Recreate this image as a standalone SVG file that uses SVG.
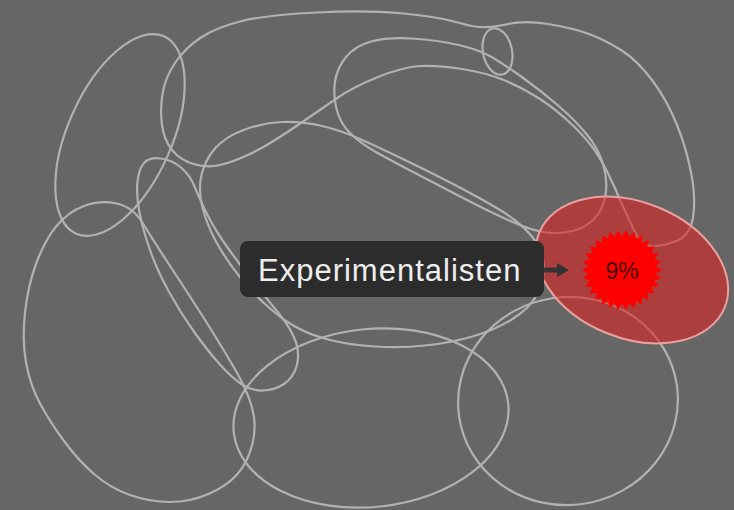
<svg xmlns="http://www.w3.org/2000/svg" width="734" height="510" viewBox="0 0 734 510">
<style>
.ln{fill:none;stroke:#b2b2b2;stroke-width:2.2}
.lbl{font-family:"Liberation Sans",Arial,sans-serif;font-size:31px;fill:#eeeeee;letter-spacing:1px}
.pct{font-family:"Liberation Sans",Arial,sans-serif;font-size:23px;fill:#4a0505;text-anchor:middle}
</style>
<rect width="734" height="510" fill="#666666"/>
<g id="shapes">
<ellipse id="e1" class="ln" cx="120" cy="135" rx="52" ry="108" transform="rotate(24 120 135)"/>
<path id="e2" class="ln" d="M 162,125 Q 160,110 162.5,94 Q 165,78 175,63 Q 185,48 201,37.5 Q 217,27 242,21 Q 267,15 317,12.5 Q 367,10 403.5,13.5 Q 440,17 461.5,23.5 Q 483,30 503,25 Q 523,20 548,24 Q 573,28 589,34 Q 605,40 621,50 Q 637,60 652,80 Q 667,100 677,125 Q 687,150 691.5,175 Q 696,200 693,217.5 Q 690,235 677.5,240.5 Q 665,246 653.5,246 Q 642,246 637,236 Q 632,226 626,213 Q 620,200 614,186 Q 608,172 599,157 Q 590,142 573.5,126 Q 557,110 540,99 Q 523,88 505,80.5 Q 487,73 462,69 Q 437,65 420,66 Q 403,67 378,77 Q 353,87 336.5,98.5 Q 320,110 293.5,128 Q 267,146 250,154 Q 233,162 220,165 Q 207,168 193.5,164 Q 180,160 172,150 Q 164,140 162,125 Z"/>
<ellipse id="e3" class="ln" cx="497.5" cy="51.5" rx="14.5" ry="23.5" transform="rotate(-12 497.5 51.5)"/>
<path id="e4" class="ln" d="M 336.5,109 Q 333,95 335,81.5 Q 337,68 346,57 Q 355,46 371,41.5 Q 387,37 412,38.5 Q 437,40 458.5,45 Q 480,50 492.5,57.5 Q 505,65 522.5,77.5 Q 540,90 557.5,105 Q 575,120 586.5,134 Q 598,148 603,164 Q 608,180 605.5,195 Q 603,210 594,219 Q 585,228 572.5,231 Q 560,234 546.5,232.5 Q 533,231 511.5,221.5 Q 490,212 465,199 Q 440,186 415,173 Q 390,160 375,151.5 Q 360,143 350,133 Q 340,123 336.5,109 Z"/>
<path id="e5" class="ln" d="M 202.5,207.5 Q 198,190 201.5,175 Q 205,160 215,148.5 Q 225,137 243.5,130 Q 262,123 281,122 Q 300,121 320,125.5 Q 340,130 360,139 Q 380,148 405,160 Q 430,172 455,185 Q 480,198 500,210 Q 520,222 531.5,236 Q 543,250 544,265 Q 545,280 537.5,294 Q 530,308 512.5,319 Q 495,330 472.5,336.5 Q 450,343 425,345.5 Q 400,348 375,346.5 Q 350,345 330,340 Q 310,335 295,326.5 Q 280,318 265,304 Q 250,290 237.5,274 Q 225,258 216,241.5 Q 207,225 202.5,207.5 Z"/>
<path id="e6" class="ln" d="M 144.5,162.5 Q 150,157 161,158.5 Q 172,160 181,167.5 Q 190,175 195,187.5 Q 200,200 207.5,215 Q 215,230 227.5,247.5 Q 240,265 254,282.5 Q 268,300 280,315 Q 292,330 296,342.5 Q 300,355 296.5,366.5 Q 293,378 284,384 Q 275,390 263.5,390.5 Q 252,391 242,384.5 Q 232,378 219.5,364 Q 207,350 193.5,331 Q 180,312 168.5,291 Q 157,270 150,250 Q 143,230 139.5,212.5 Q 136,195 137.5,181.5 Q 139,168 144.5,162.5 Z"/>
<path id="e7" class="ln" d="M 84,206 Q 100,200 116.5,203.5 Q 133,207 143,223.5 Q 153,240 165.5,259 Q 178,278 190,296.5 Q 202,315 213.5,333.5 Q 225,352 236,371 Q 247,390 252,407.5 Q 257,425 252.5,443.5 Q 248,462 237.5,474 Q 227,486 208.5,494 Q 190,502 170,502 Q 150,502 130,495 Q 110,488 94,474 Q 78,460 64,441 Q 50,422 40,403.5 Q 30,385 26,362.5 Q 22,340 25,312.5 Q 28,285 36.5,262.5 Q 45,240 56.5,226 Q 68,212 84,206 Z"/>
<ellipse id="e8" class="ln" cx="371" cy="418" rx="138" ry="89" transform="rotate(-6 371 418)"/>
<ellipse id="e9" class="ln" cx="568" cy="401" rx="110" ry="104" transform="rotate(-8 568 401)"/>
</g>
<g id="experimentalisten">
<ellipse cx="632" cy="270" rx="100" ry="68" transform="rotate(22 632 270)" fill="#e02020" fill-opacity="0.58" stroke="#eaa0a0" stroke-width="2"/>
<polygon fill="#ff0000" points="662,270 655.81,273.55 661.12,278.32 654.34,280.51 658.54,286.27 651.44,287 654.36,293.51 647.27,292.75 648.76,299.72 641.99,297.51 642,304.64 635.83,301.06 634.36,308.04 629.07,303.26 626.18,309.78 622,304 617.82,309.78 614.93,303.26 609.64,308.04 608.17,301.06 602,304.64 602.01,297.51 595.24,299.72 596.73,292.75 589.64,293.51 592.56,287 585.46,286.27 589.66,280.51 582.88,278.32 588.19,273.55 582,270 588.19,266.45 582.88,261.68 589.66,259.49 585.46,253.73 592.56,253 589.64,246.49 596.73,247.25 595.24,240.28 602.01,242.49 602,235.36 608.17,238.94 609.64,231.96 614.93,236.74 617.82,230.22 622,236 626.18,230.22 629.07,236.74 634.36,231.96 635.83,238.94 642,235.36 641.99,242.49 648.76,240.28 647.27,247.25 654.36,246.49 651.44,253 658.54,253.73 654.34,259.49 661.12,261.68 655.81,266.45"/>
<text class="pct" x="622" y="279">9%</text>
</g>
<g id="label">
<rect x="240" y="241" width="304" height="56" rx="8" fill="#2c2c2c"/>
<text class="lbl" x="258" y="281">Experimentalisten</text>
</g>
<g id="connectors">
<line x1="543" y1="270" x2="559" y2="270" stroke="#333333" stroke-width="5"/>
<polygon points="557,263 569,270 557,277" fill="#333333"/>
</g>
</svg>
